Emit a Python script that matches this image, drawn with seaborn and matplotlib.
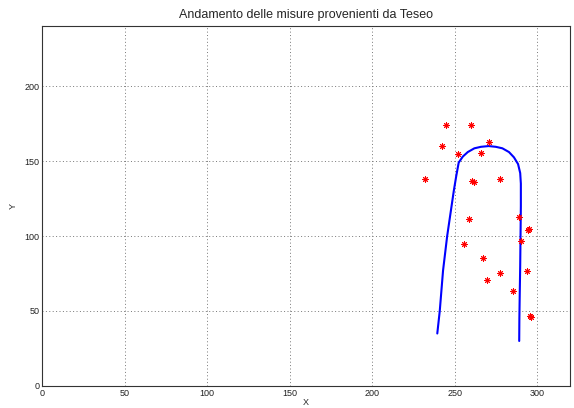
import matplotlib
matplotlib.use("Agg")
import matplotlib.pyplot as plt
import seaborn as sns
import pandas as pd

# Trajectory (blue line)
traj_x = [239.5, 241.0, 243.0, 245.5, 247.5, 249.5, 251.0, 252.5, 255.0, 258.0, 262.0,
          266.0, 270.7, 275.0, 279.0, 283.0, 286.0, 288.5, 289.8, 290.2, 290.2, 290.0,
          289.8, 289.5, 289.3, 289.2]
traj_y = [35.0, 50.0, 77.0, 100.0, 115.0, 130.0, 140.0, 149.0, 153.0, 156.0, 158.5,
          159.5, 160.0, 159.5, 158.5, 156.0, 152.5, 148.0, 142.0, 135.0, 120.0, 100.0,
          80.0, 60.0, 45.0, 30.0]

# Measurements (red stars)
meas_x = [244.5, 242.5, 252.0, 232.0, 260.0, 270.7, 266.3, 260.6, 261.6, 277.3,
          258.6, 289.2, 294.3, 295.3, 255.6, 290.2, 267.3, 293.7, 277.3, 269.7,
          285.4, 295.5, 296.3]
meas_y = [173.8, 159.8, 155.0, 137.8, 173.8, 162.7, 155.6, 136.7, 135.8, 137.8,
          111.6, 112.7, 103.8, 104.5, 94.5, 96.7, 85.6, 76.8, 75.3, 70.5,
          63.3, 46.5, 46.0]

x_ticks = [0, 50, 100, 150, 200, 250, 300]
y_ticks = [0, 50, 100, 150, 200]
title = "Andamento delle misure provenienti da Teseo"

sns.set_style("white")
plt.rcParams['font.family'] = ['Liberation Sans', 'DejaVu Sans']
plt.rcParams['xtick.direction'] = 'in'
plt.rcParams['ytick.direction'] = 'in'

fig = plt.figure(figsize=(5.74, 4.08), dpi=100)
ax = fig.add_axes([0.074, 0.054, 0.919, 0.882])

df_traj = pd.DataFrame({"x": traj_x, "y": traj_y})
df_meas = pd.DataFrame({"x": meas_x, "y": meas_y})

sns.lineplot(data=df_traj, x="x", y="y", sort=False, color="#0000ff", linewidth=1.5,
             ax=ax, estimator=None)
sns.scatterplot(data=df_meas, x="x", y="y", marker=(8, 2, 0), color="#ff0000",
                s=18, linewidth=0.7, ax=ax, zorder=3)

ax.set_xlim(0, 320)
ax.set_ylim(0, 240)
ax.set_xticks(x_ticks)
ax.set_yticks(y_ticks)
ax.tick_params(labelsize=6.5, length=3, width=0.8, colors="#222222", pad=2)
ax.grid(True, linestyle=(0, (1, 2.5)), color="#777777", linewidth=0.7)
for s in ax.spines.values():
    s.set_color("#333333")
    s.set_linewidth(0.8)
ax.set_xlabel("X", fontsize=6.5, labelpad=0)
ax.set_ylabel("Y", fontsize=6.5, labelpad=5)
ax.set_title(title, fontsize=9, pad=6)

fig.savefig("out.png", dpi=100)
